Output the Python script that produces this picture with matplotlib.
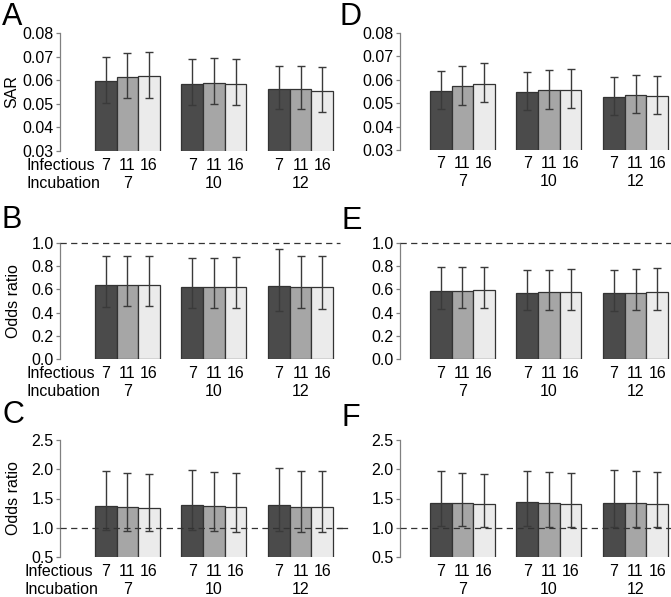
import matplotlib
matplotlib.use("Agg")
import matplotlib.pyplot as plt
import numpy as np

plt.rcParams['font.family'] = ['Liberation Sans', 'DejaVu Sans']

infectious = ["7", "11", "16"]
incubation = ["7", "10", "12"]

# values per panel: 9 bars (incubation groups x infectious)
A_val = [0.0597, 0.0614, 0.0617, 0.0586, 0.0588, 0.0584, 0.0561, 0.0561, 0.0553]
A_hi = [0.0698, 0.0716, 0.0720, 0.0688, 0.0693, 0.0688, 0.0662, 0.0662, 0.0655]
A_lo = [0.0505, 0.0523, 0.0526, 0.0496, 0.0499, 0.0495, 0.0476, 0.0476, 0.0466]

D_val = [0.0553, 0.0573, 0.0583, 0.0546, 0.0555, 0.0556, 0.0527, 0.0533, 0.0531]
D_hi = [0.0639, 0.0659, 0.0671, 0.0632, 0.0642, 0.0645, 0.0610, 0.0620, 0.0617]
D_lo = [0.0477, 0.0494, 0.0505, 0.0470, 0.0477, 0.0478, 0.0451, 0.0458, 0.0455]

B_val = [0.637, 0.637, 0.637, 0.620, 0.620, 0.620, 0.631, 0.620, 0.620]
B_hi = [0.889, 0.889, 0.889, 0.874, 0.874, 0.877, 0.951, 0.886, 0.886]
B_lo = [0.446, 0.457, 0.457, 0.437, 0.437, 0.437, 0.414, 0.437, 0.431]

E_val = [0.586, 0.589, 0.591, 0.569, 0.574, 0.574, 0.566, 0.571, 0.574]
E_hi = [0.789, 0.789, 0.789, 0.769, 0.771, 0.777, 0.766, 0.774, 0.783]
E_lo = [0.431, 0.437, 0.437, 0.420, 0.423, 0.426, 0.411, 0.420, 0.420]

C_val = [1.375, 1.352, 1.341, 1.386, 1.364, 1.352, 1.386, 1.352, 1.352]
C_hi = [1.977, 1.938, 1.920, 1.989, 1.960, 1.943, 2.023, 1.977, 1.966]
C_lo = [0.966, 0.943, 0.943, 0.955, 0.943, 0.932, 0.943, 0.932, 0.920]

F_val = [1.426, 1.415, 1.403, 1.438, 1.415, 1.403, 1.426, 1.415, 1.403]
F_hi = [1.966, 1.932, 1.920, 1.977, 1.955, 1.943, 1.989, 1.966, 1.955]
F_lo = [1.034, 1.023, 1.017, 1.034, 1.017, 1.006, 1.017, 1.011, 1.006]

bar_colors = ['#4b4b4b', '#a6a6a6', '#ebebeb']

W, H = 671, 597
fig = plt.figure(figsize=(W / 100, H / 100), dpi=100)

def px_axes(left, top, right, bottom):
    return fig.add_axes([left / W, 1 - bottom / H, (right - left) / W, (bottom - top) / H])

positions = np.array([0, 1, 2, 4, 5, 6, 8, 9, 10], dtype=float)
FS = 11.5

def draw(ax, val, hi, lo, ylim, yticks, fmt, xl, xr, ref=None, ref_span=(0, 1),
         ylabel=None, ylabel_x=12, row_labels=False, lab_x=27):
    val = np.array(val); hi = np.array(hi); lo = np.array(lo)
    cols = [bar_colors[i % 3] for i in range(9)]
    ax.bar(positions, val, width=1.0, color=cols, edgecolor='#333333', linewidth=0.9, zorder=2)
    ax.errorbar(positions, val, yerr=[val - lo, hi - val], fmt='none', ecolor='#3a3a3a',
                elinewidth=1.0, capsize=3.2, capthick=1.0, zorder=3)
    ax.set_ylim(*ylim)
    ax.set_xlim(xl, xr)
    ax.set_yticks(yticks)
    ax.set_yticklabels([fmt.format(t) for t in yticks], fontsize=FS)
    for s in ['top', 'right', 'bottom']:
        ax.spines[s].set_visible(False)
    ax.spines['left'].set_color('#808080')
    ax.spines['left'].set_linewidth(0.9)
    ax.tick_params(axis='y', length=3, width=0.9, color='#808080', pad=1.5)
    ax.set_xticks([])
    if ref is not None:
        ax.axhline(ref, xmin=ref_span[0], xmax=ref_span[1], color='#333333', lw=0.9,
                   ls=(0, (5, 3.5)), clip_on=False, zorder=4)
    for i, p in enumerate(positions):
        ax.annotate(infectious[i % 3], xy=(p, 0), xycoords=('data', 'axes fraction'),
                    xytext=(0, -14 * 0.72), textcoords='offset points',
                    ha='center', va='center', fontsize=FS)
    for g in range(3):
        ax.annotate(incubation[g], xy=(positions[3 * g + 1], 0), xycoords=('data', 'axes fraction'),
                    xytext=(0, -32 * 0.72), textcoords='offset points',
                    ha='center', va='center', fontsize=FS)
    bb = ax.get_position()
    if ylabel:
        fig.text(ylabel_x / W, (bb.y0 + bb.y1) / 2, ylabel, rotation=90,
                 ha='center', va='center', fontsize=FS)
    if row_labels:
        ybot = bb.y0 * H
        fig.text(lab_x / W, (ybot - 14) / H, "Infectious", ha='left', va='center', fontsize=FS)
        fig.text(lab_x / W, (ybot - 32) / H, "Incubation", ha='left', va='center', fontsize=FS)

# left column
axA = px_axes(60, 33, 340, 151)
draw(axA, A_val, A_hi, A_lo, (0.03, 0.08), [0.03, 0.04, 0.05, 0.06, 0.07, 0.08], "{:.2f}",
     -2.11, 10.82, ylabel="SAR", ylabel_x=12, row_labels=True, lab_x=27)
axB = px_axes(60, 243, 340, 359)
draw(axB, B_val, B_hi, B_lo, (0.0, 1.0), [0.0, 0.2, 0.4, 0.6, 0.8, 1.0], "{:.1f}",
     -2.11, 10.82, ref=1.0, ylabel="Odds ratio", ylabel_x=14, row_labels=True, lab_x=27)
axC = px_axes(60, 440, 340, 557)
draw(axC, C_val, C_hi, C_lo, (0.5, 2.5), [0.5, 1.0, 1.5, 2.0, 2.5], "{:.1f}",
     -2.11, 10.82, ref=1.0, ref_span=(0, (347 - 60) / 280), ylabel="Odds ratio",
     ylabel_x=14, row_labels=True, lab_x=24)

# right column
axD = px_axes(400, 33, 671, 150)
draw(axD, D_val, D_hi, D_lo, (0.03, 0.08), [0.03, 0.04, 0.05, 0.06, 0.07, 0.08], "{:.2f}",
     -1.88, 10.64)
axE = px_axes(400, 243, 671, 359)
draw(axE, E_val, E_hi, E_lo, (0.0, 1.0), [0.0, 0.2, 0.4, 0.6, 0.8, 1.0], "{:.1f}",
     -1.88, 10.64, ref=1.0)
axF = px_axes(400, 440, 671, 557)
draw(axF, F_val, F_hi, F_lo, (0.5, 2.5), [0.5, 1.0, 1.5, 2.0, 2.5], "{:.1f}",
     -1.88, 10.64, ref=1.0)
axF.axhline(1.0, xmin=(338 - 400) / 271, xmax=(347 - 400) / 271, color='#333333', lw=0.9,
            clip_on=False, zorder=4)

# panel letters
letters = [("A", 2, 2), ("B", 2, 205), ("C", 2, 400), ("D", 340, 2), ("E", 341, 206), ("F", 341, 403)]
for t, x, y in letters:
    fig.text(x / W, 1 - y / H, t, fontsize=22, ha='left', va='top')

fig.savefig("out.png", dpi=100)
